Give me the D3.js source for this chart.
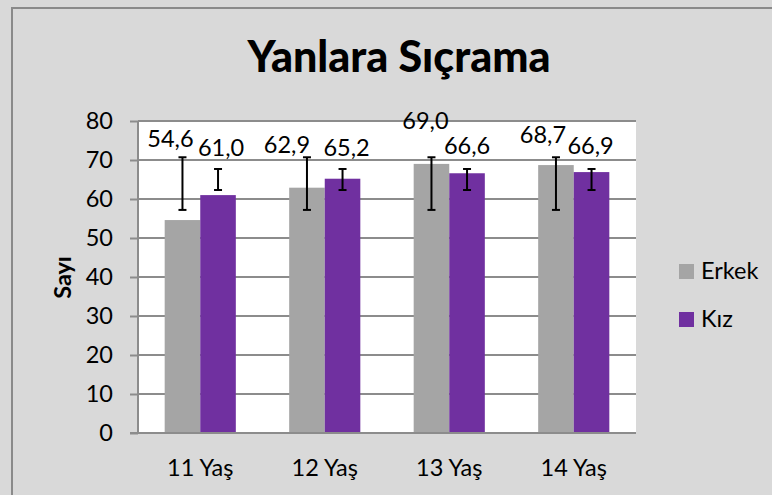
<!DOCTYPE html>
<html>
<head>
<meta charset="utf-8">
<script src="https://cdn.jsdelivr.net/npm/d3@7"></script>
<style>
  body { margin: 0; background: #d9d9d9; }
  svg text { font-family: Lato, "Open Sans", sans-serif; fill: #000; }
</style>
</head>
<body>
<svg id="chart"></svg>
<script>
var categories = ["11 Yaş", "12 Yaş", "13 Yaş", "14 Yaş"];
var seriesNames = ["Erkek", "Kız"];
var erkekValues = [54.6, 62.9, 69.0, 68.7];
var kizValues = [61.0, 65.2, 66.6, 66.9];
var erkekErrLow = [57.2, 57.2, 57.2, 57.2];
var erkekErrHigh = [70.7, 70.7, 70.7, 70.7];
var kizErrLow = [62.3, 62.3, 62.3, 62.3];
var kizErrHigh = [67.7, 67.7, 67.7, 67.7];
var yTicks = [0, 10, 20, 30, 40, 50, 60, 70, 80];

// label nudges (pixels) relative to top of each bar, like hand-moved Excel labels
var erkekLabelNudge = [[-12, -73], [-20, -35], [-6, -35], [-13, -22]];
var kizLabelNudge = [[3, -39], [4, -23], [0, -19], [-1, -18]];

var width = 772, height = 495;
var colors = ["#a5a5a5", "#7030a0"];
var plot = { left: 138, right: 636, top: 121, bottom: 433 };
var fontSize = "23.5px";

var svg = d3.select("#chart")
    .attr("width", width)
    .attr("height", height);

svg.append("rect")
    .attr("x", 12).attr("y", 8)
    .attr("width", 820).attr("height", 540)
    .attr("fill", "#d9d9d9")
    .attr("stroke", "#8a8a8a")
    .attr("stroke-width", 2);

svg.append("text")
    .attr("x", 399).attr("y", 72)
    .attr("text-anchor", "middle")
    .style("font-size", "43px")
    .style("font-weight", "900")
    .text("Yanlara Sıçrama");

var x = d3.scaleBand()
    .domain(categories)
    .range([plot.left, plot.right]);

var xs = d3.scaleBand()
    .domain(seriesNames)
    .range([0, x.bandwidth()])
    .paddingInner(0)
    .paddingOuter(0.75);

var y = d3.scaleLinear()
    .domain([0, 80])
    .range([plot.bottom, plot.top]);

svg.append("rect")
    .attr("x", plot.left).attr("y", plot.top)
    .attr("width", plot.right - plot.left)
    .attr("height", plot.bottom - plot.top)
    .attr("fill", "#fff");

// gridlines
svg.append("g")
    .selectAll("line")
    .data(yTicks)
    .enter()
    .append("line")
    .attr("x1", plot.left).attr("x2", plot.right)
    .attr("y1", d => y(d)).attr("y2", d => y(d))
    .attr("stroke", "#8c8c8c")
    .attr("stroke-width", 2);

var yAxis = svg.append("g")
    .attr("transform", "translate(" + plot.left + ",0)")
    .call(d3.axisLeft(y).tickValues(yTicks).tickSize(8).tickPadding(17));
yAxis.select(".domain").remove();
yAxis.selectAll(".tick line").attr("stroke", "#8c8c8c").attr("stroke-width", 2);
yAxis.selectAll(".tick text")
    .attr("fill", "#000")
    .style("font-size", fontSize)
    .style("font-family", "Lato, 'Open Sans', sans-serif");

svg.append("line")
    .attr("x1", plot.left).attr("x2", plot.left)
    .attr("y1", plot.top).attr("y2", plot.bottom)
    .attr("stroke", "#8c8c8c").attr("stroke-width", 2);

var series = [
    { name: "Erkek", values: erkekValues, lo: erkekErrLow, hi: erkekErrHigh, nudge: erkekLabelNudge, color: colors[0] },
    { name: "Kız", values: kizValues, lo: kizErrLow, hi: kizErrHigh, nudge: kizLabelNudge, color: colors[1] }
];

series.forEach(function (s) {
    var g = svg.append("g");
    var cx = (d, i) => x(categories[i]) + xs(s.name) + xs.bandwidth() / 2;

    g.selectAll(".bar")
        .data(s.values)
        .enter()
        .append("rect")
        .classed("bar", true)
        .attr("x", (d, i) => x(categories[i]) + xs(s.name))
        .attr("width", xs.bandwidth())
        .attr("y", d => y(d))
        .attr("height", d => y(0) - y(d))
        .attr("fill", s.color);

    // error bars
    s.values.forEach(function (d, i) {
        var px = cx(d, i);
        var e = g.append("g")
            .attr("stroke", "#000")
            .attr("stroke-width", 2);
        e.append("line")
            .attr("x1", px).attr("x2", px)
            .attr("y1", y(s.lo[i])).attr("y2", y(s.hi[i]));
        e.append("line")
            .attr("x1", px - 4).attr("x2", px + 4)
            .attr("y1", y(s.lo[i])).attr("y2", y(s.lo[i]));
        e.append("line")
            .attr("x1", px - 4).attr("x2", px + 4)
            .attr("y1", y(s.hi[i])).attr("y2", y(s.hi[i]));
    });

    g.selectAll(".lbl")
        .data(s.values)
        .enter()
        .append("text")
        .classed("lbl", true)
        .attr("x", (d, i) => cx(d, i) + s.nudge[i][0])
        .attr("y", (d, i) => y(d) + s.nudge[i][1])
        .attr("text-anchor", "middle")
        .style("font-size", fontSize)
        .text(d => d.toFixed(1).replace(".", ","));
});

// bottom axis line
svg.append("line")
    .attr("x1", plot.left - 8).attr("x2", plot.right)
    .attr("y1", plot.bottom).attr("y2", plot.bottom)
    .attr("stroke", "#8c8c8c").attr("stroke-width", 2);

svg.append("g")
    .selectAll("text")
    .data(categories)
    .enter()
    .append("text")
    .attr("x", d => x(d) + x.bandwidth() / 2)
    .attr("y", 476)
    .attr("text-anchor", "middle")
    .style("font-size", fontSize)
    .text(d => d);

svg.append("text")
    .attr("transform", "translate(71,277.5) rotate(-90)")
    .attr("text-anchor", "middle")
    .style("font-size", fontSize)
    .style("font-weight", "bold")
    .text("Sayı");

// legend
var legend = svg.append("g")
    .selectAll("g")
    .data(seriesNames)
    .enter()
    .append("g")
    .attr("transform", (d, i) => "translate(679," + (264 + i * 48) + ")");
legend.append("rect")
    .attr("width", 15).attr("height", 15)
    .attr("fill", (d, i) => colors[i]);
legend.append("text")
    .attr("x", 22).attr("y", 15)
    .style("font-size", fontSize)
    .text(d => d);
</script>
</body>
</html>
